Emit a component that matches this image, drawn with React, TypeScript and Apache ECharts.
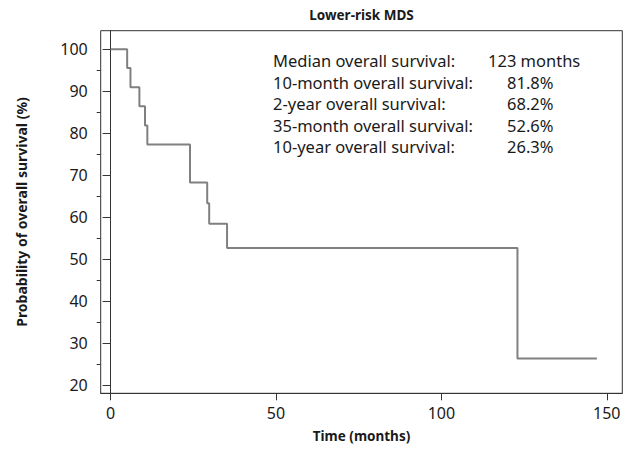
import React, { useEffect, useRef } from "react";
import * as echarts from "echarts";

const times = [0, 5, 6, 8.7, 10.4, 11.1, 24, 29.2, 29.8, 35.2, 123, 147];
const survival = [100, 95.5, 90.9, 86.4, 81.8, 77.3, 68.2, 63.3, 58.4, 52.6, 26.3, 26.3];
const xTicks = [0, 50, 100, 150];
const yTicks = [20, 30, 40, 50, 60, 70, 80, 90, 100];
const yMinorTicks = [25, 35, 45, 55, 65, 75, 85, 95];
const statLabels = [
  "Median overall survival:",
  "10-month overall survival:",
  "2-year overall survival:",
  "35-month overall survival:",
  "10-year overall survival:",
];
const statValues = ["123 months", "81.8%", "68.2%", "52.6%", "26.3%"];
const title = "Lower-risk MDS";
const xName = "Time (months)";
const yName = "Probability of overall survival (%)";

const FONT = "'Noto Sans', 'Open Sans', sans-serif";
const TXT = "#1a1a1a";

export default function App() {
  const ref = useRef<HTMLDivElement>(null);
  useEffect(() => {
    if (!ref.current) return;
    const chart = echarts.init(ref.current, undefined, { renderer: "svg" });
    const gridLeft = 100.7, gridRight = 622.3, gridTop = 30.7, gridBottom = 393.3;
    const cx = (gridLeft + gridRight) / 2;
    const graphic: any[] = [];
    graphic.push({
      type: "text", x: cx, y: 14.5,
      style: { text: title, font: `bold 13.5px ${FONT}`, fill: TXT, textAlign: "center", textVerticalAlign: "middle" },
    });
    graphic.push({
      type: "text", x: cx, y: 436,
      style: { text: xName, font: `bold 13.5px ${FONT}`, fill: TXT, textAlign: "center", textVerticalAlign: "middle" },
    });
    graphic.push({
      type: "text", x: 21, y: (gridTop + gridBottom) / 2, rotation: Math.PI / 2,
      style: { text: yName, font: `bold 14px ${FONT}`, fill: TXT, textAlign: "center", textVerticalAlign: "middle" },
    });
    statLabels.forEach((s, i) => {
      const y = 60.7 + i * 21.5;
      graphic.push({
        type: "text", x: 273, y,
        style: { text: s, font: `16.5px ${FONT}`, fill: TXT, textAlign: "left", textVerticalAlign: "middle" },
      });
      graphic.push({
        type: "text", x: i === 0 ? 488 : 507, y,
        style: { text: statValues[i], font: `16.5px ${FONT}`, fill: TXT, textAlign: "left", textVerticalAlign: "middle" },
      });
    });

    chart.setOption({
      animation: false,
      grid: {
        left: gridLeft, right: 626 - gridRight, top: gridTop, bottom: 452 - gridBottom,
        show: true, borderColor: "#333", borderWidth: 1, backgroundColor: "transparent",
      },
      xAxis: {
        type: "value", min: -3, max: 154.7,
        axisLine: { show: true, lineStyle: { color: "#333", width: 1 } },
        axisTick: { show: true, customValues: xTicks, length: 7, lineStyle: { color: "#333" } },
        axisLabel: { customValues: xTicks, margin: 12, fontSize: 16, color: TXT, fontFamily: FONT },
        splitLine: { show: false },
      },
      yAxis: [
        {
          type: "value", min: 18, max: 104.4,
          axisLine: { show: true, lineStyle: { color: "#333", width: 1 } },
          axisTick: { show: true, customValues: yTicks, length: 8, lineStyle: { color: "#333" } },
          axisLabel: { customValues: yTicks, margin: 13, fontSize: 16, color: TXT, fontFamily: FONT },
          splitLine: { show: false },
        },
        {
          type: "value", min: 18, max: 104.4, position: "left",
          axisLine: { show: false },
          axisTick: { show: true, customValues: yMinorTicks, length: 4, lineStyle: { color: "#333" } },
          axisLabel: { show: false },
          splitLine: { show: false },
        },
      ],
      series: [
        {
          type: "line", step: "end",
          data: times.map((t, i) => [t, survival[i]]),
          showSymbol: false, symbol: "none",
          lineStyle: { color: "#808080", width: 2 },
          yAxisIndex: 0,
        },
      ],
      graphic,
    });
    return () => chart.dispose();
  }, []);
  return <div ref={ref} style={{ position: "fixed", left: 0, top: 0, width: 626, height: 452, background: "#fff" }} />;
}
